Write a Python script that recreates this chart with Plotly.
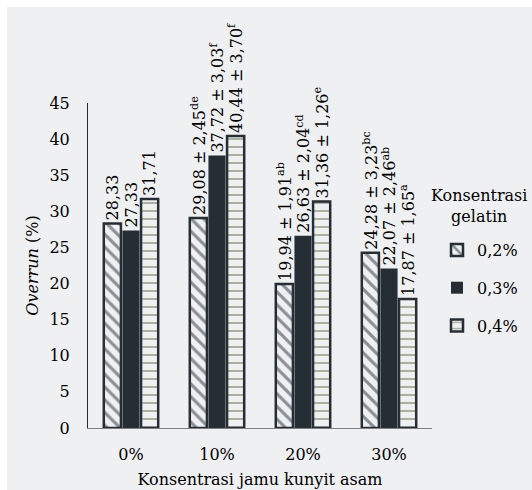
import plotly.graph_objects as go

# Data
categories = ["0%", "10%", "20%", "30%"]
series_names = ["0,2%", "0,3%", "0,4%"]
overrun_02 = [28.33, 29.08, 19.94, 24.28]
overrun_03 = [27.33, 37.72, 26.63, 22.07]
overrun_04 = [31.71, 40.44, 31.36, 17.87]
sd_02 = [None, 2.45, 1.91, 3.23]
sd_03 = [None, 3.03, 2.04, 2.46]
sd_04 = [None, 3.70, 1.26, 1.65]
letters_02 = [None, "de", "ab", "bc"]
letters_03 = [None, "f", "cd", "ab"]
letters_04 = [None, "f", "e", "a"]
legend_title = "Konsentrasi<br>gelatin"

FONT = "DejaVu Serif"
DARK = "#262e35"
OLIVE = "#4f6228"
BG = "#eff0f2"


def fmt(v):
    return f"{v:.2f}".replace(".", ",")


def labels(vals, sds, lets):
    out = []
    for v, s, l in zip(vals, sds, lets):
        if s is None:
            out.append(fmt(v))
        else:
            out.append(f"{fmt(v)} ± {fmt(s)}<sup>{l}</sup>")
    return out


styles = [
    dict(color="white", line=dict(color=DARK, width=2.5),
         pattern=dict(shape="\\", fgcolor=DARK, bgcolor=BG, size=9, solidity=0.35)),
    dict(color=DARK, line=dict(color=DARK, width=0)),
    dict(color="white", line=dict(color=DARK, width=2.5),
         pattern=dict(shape="-", fgcolor=OLIVE, bgcolor=BG, size=8, solidity=0.22)),
]

fig = go.Figure()
for i, (name, vals, sds, lets) in enumerate(zip(
        series_names,
        [overrun_02, overrun_03, overrun_04],
        [sd_02, sd_03, sd_04],
        [letters_02, letters_03, letters_04])):
    fig.add_trace(go.Bar(
        x=categories, y=vals, name=name,
        marker=styles[i],
        text=labels(vals, sds, lets),
        textposition="outside", textangle=-90,
        constraintext="none", cliponaxis=False,
        textfont=dict(family=FONT, size=16, color="black"),
        legendgroup=str(i),
    ))

# white outer strip along the top and left edges
fig.add_shape(type="rect", xref="paper", yref="paper",
              x0=(7 - 88) / 344, x1=(540 - 88) / 344,
              y0=-0.25, y1=(428 - 7) / 325,
              fillcolor=BG, line=dict(width=0), layer="below")

# legend heading, centred above the legend entries
fig.add_annotation(
    text=legend_title, xref="paper", yref="paper",
    x=(479 - 88) / 344, y=(428 - 184) / 325,
    xanchor="center", yanchor="top", align="center", showarrow=False,
    font=dict(family=FONT, size=16, color="black"),
)

fig.update_layout(
    width=532, height=490,
    margin=dict(l=88, r=100, t=103, b=62, autoexpand=False),
    paper_bgcolor="white", plot_bgcolor=BG,
    barmode="group", bargap=0.35, bargroupgap=0.08,
    font=dict(family=FONT, size=16, color="black"),
    showlegend=True,
    legend=dict(
        x=(437 - 88) / 344, xanchor="left",
        y=(428 - 233) / 325, yanchor="top",
        bgcolor="rgba(0,0,0,0)",
        font=dict(family=FONT, size=16),
        tracegroupgap=14,
        itemwidth=30,
    ),
    xaxis=dict(
        showline=True, linecolor="#808080", linewidth=1,
        ticks="", showgrid=False,
        ticklabelstandoff=12,
        tickfont=dict(family=FONT, size=16),
        title=dict(text="Konsentrasi jamu kunyit asam", standoff=10,
                   font=dict(family=FONT, size=16)),
    ),
    yaxis=dict(
        range=[0, 45], dtick=5,
        showline=True, linecolor=DARK, linewidth=1,
        ticks="", showgrid=False, zeroline=False,
        ticklabelstandoff=14,
        tickfont=dict(family=FONT, size=16),
        title=dict(text="<i>Overrun</i> (%)", standoff=6,
                   font=dict(family=FONT, size=16)),
    ),
)

fig.write_html("out.html")
